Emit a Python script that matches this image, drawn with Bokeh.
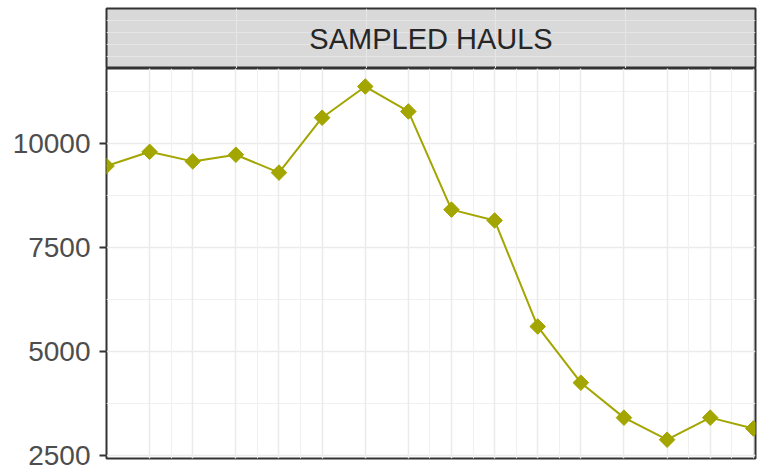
from bokeh.plotting import figure
from bokeh.layouts import column
from bokeh.models import Range1d, FixedTicker, Grid, Label, ColumnDataSource
from bokeh.embed import file_html
from bokeh.resources import INLINE

# ---- data ----
years = [2003, 2004, 2005, 2006, 2007, 2008, 2009, 2010,
         2011, 2012, 2013, 2014, 2015, 2016, 2017, 2018]
hauls = [9460, 9800, 9570, 9730, 9300, 10620, 11370, 10770,
         8410, 8150, 5600, 4250, 3410, 2880, 3410, 3150]
y_ticks = [2500, 5000, 7500, 10000]
y_minor = [3750, 6250, 8750, 11250]
x_major = [2004, 2005, 2006, 2007, 2008, 2009, 2010, 2011,
           2012, 2013, 2014, 2015, 2016, 2017]
x_minor = [2004.5, 2006.5, 2007.5, 2010.5, 2011.5, 2012.5,
           2013.5, 2016.5, 2017.5]
strip_title = "SAMPLED HAULS"

COLOR = "#A3A500"
FONT = "Liberation Sans"
BORDER = "#333333"

W = 760
LEFT = 106
RIGHT = 5

# ---- strip (facet label) ----
strip = figure(width=W, height=68, x_range=Range1d(0, 1), y_range=Range1d(0, 1),
               x_axis_location=None, y_axis_location=None,
               output_backend="svg", toolbar_location=None,
               min_border_left=LEFT, min_border_right=RIGHT,
               min_border_top=8, min_border_bottom=0)
strip.background_fill_color = "#d9d9d9"
strip.border_fill_color = "white"
strip.outline_line_color = BORDER
strip.outline_line_width = 2
strip.add_layout(Label(x=0.5, y=0.5, text=strip_title, text_align="center",
                       text_baseline="middle", text_font=FONT,
                       text_font_size="29px", text_color="#262626"))

# ---- main panel ----
p = figure(width=W, height=401,
           x_range=Range1d(2003, 2018.05), y_range=Range1d(2428, 11803),
           x_axis_location=None,
           output_backend="svg", toolbar_location=None,
           min_border_left=LEFT, min_border_right=RIGHT,
           min_border_top=0, min_border_bottom=11)
p.background_fill_color = "white"
p.border_fill_color = "white"
p.outline_line_color = BORDER
p.outline_line_width = 2

yax = p.yaxis[0]
yax.ticker = FixedTicker(ticks=y_ticks, minor_ticks=y_minor)
yax.axis_line_color = None
yax.major_tick_line_color = BORDER
yax.major_tick_line_width = 2
yax.major_tick_out = 7
yax.major_tick_in = 0
yax.minor_tick_line_color = None
yax.major_label_text_font = FONT
yax.major_label_text_font_size = "28px"
yax.major_label_text_color = "#4d4d4d"
yax.major_label_standoff = 9

p.ygrid.grid_line_color = "#ebebeb"
p.ygrid.grid_line_width = 1.5
p.ygrid.minor_grid_line_color = "#f0f0f0"
p.ygrid.minor_grid_line_width = 1

xgrid = Grid(dimension=0, ticker=FixedTicker(ticks=x_major, minor_ticks=x_minor),
             grid_line_color="#ebebeb", grid_line_width=1.5,
             minor_grid_line_color="#f0f0f0", minor_grid_line_width=1)
p.add_layout(xgrid)

src = ColumnDataSource(dict(x=years, y=hauls))
p.line("x", "y", source=src, line_color=COLOR, line_width=2)
p.scatter("x", "y", source=src, marker="square", size=11, angle=0.785398,
          fill_color=COLOR, line_color=COLOR)

layout = column(strip, p, spacing=0)

open("out.html", "w").write(file_html(layout, INLINE))
